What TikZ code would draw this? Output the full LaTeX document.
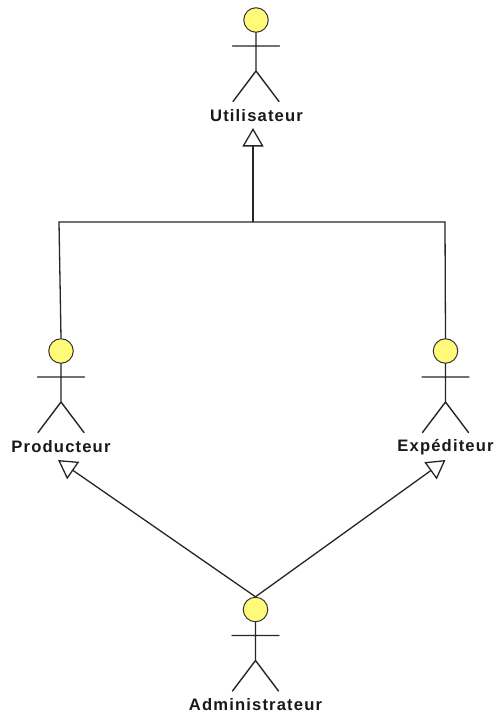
\documentclass[tikz,border=0pt]{standalone}
\usepackage{fontspec}
\setmainfont{Liberation Sans}[LetterSpace=7]
\usetikzlibrary{arrows.meta}
\definecolor{headyellow}{HTML}{FFFB78}
\tikzset{
  x=1bp,y=-1bp,
  limb/.style={draw=black!85,line width=1.4bp,line cap=round},
  headnode/.style={circle,draw=black!80,fill=headyellow,line width=1bp,minimum size=24.5bp,inner sep=0pt},
  actorlabel/.style={inner sep=0pt,font=\fontsize{16.6bp}{18bp}\selectfont\bfseries,text=black!90},
  assoc/.style={draw=black!85,line width=1.3bp},
  gen/.style={assoc,-{Triangle[open,length=18.5bp,width=21bp,fill=white,line width=1.3bp]}},
  actor/.pic={
    \node[headnode] (-head) at (0,0) {};
    \path[limb] (-head.south) -- (0,51) (-23.5,26) -- (23.5,26) (-23,81.5) -- (0,51) -- (23,81.5);
  }
}
\begin{document}
\begin{tikzpicture}
\useasboundingbox (0,0) rectangle (494,717);
\fill[white] (0,0) rectangle (494,717);
\pic (u) at (256,20) {actor};
\pic (p) at (61,351) {actor};
\pic (e) at (445.5,351) {actor};
\pic (a) at (255.5,609.5) {actor};
\node[actorlabel] (ul) at (256.5,116) {Utilisateur};
\node[actorlabel] (pl) at (61,447) {Producteur};
\node[actorlabel] (el) at (445.5,447) {Expéditeur};
\node[actorlabel] (al) at (255.5,705) {Administrateur};
\coordinate (tipu) at (253,128);
\coordinate (tipp) at (58,460);
\coordinate (tipe) at (445.5,460);
\coordinate (junction) at (253,222);
\coordinate (jl) at (59,222);
\coordinate (jr) at (445,222);
\draw[gen] (junction) -- (tipu);
\draw[assoc] (p-head.north) -- (jl) -- (jr) -- (e-head.north);
\draw[gen] (a-head.north) -- (tipp);
\draw[gen] (a-head.north) -- (tipe);
\end{tikzpicture}
\end{document}
